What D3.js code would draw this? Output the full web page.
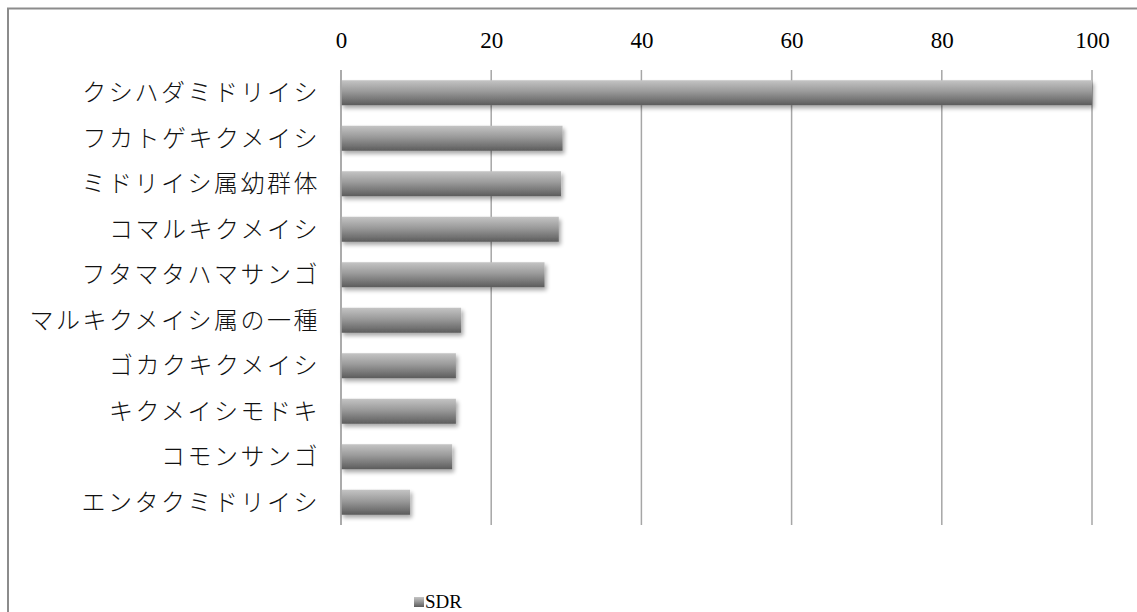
<!DOCTYPE html>
<html>
<head>
<meta charset="utf-8">
<script src="https://cdn.jsdelivr.net/npm/d3@7"></script>
<style>
  html, body { margin: 0; padding: 0; background: #fff; }
  svg { display: block; }
</style>
</head>
<body>
<svg id="chart" width="1137" height="612"></svg>
<script>
// Species names (top to bottom) and their SDR values
const categories = [
  "クシハダミドリイシ",
  "フカトゲキクメイシ",
  "ミドリイシ属幼群体",
  "コマルキクメイシ",
  "フタマタハマサンゴ",
  "マルキクメイシ属の一種",
  "ゴカクキクメイシ",
  "キクメイシモドキ",
  "コモンサンゴ",
  "エンタクミドリイシ"
];
const sdrValues = [100, 29.5, 29.3, 29.0, 27.1, 16.0, 15.3, 15.3, 14.8, 9.2];
const tickValues = [0, 20, 40, 60, 80, 100];
const seriesName = "SDR";

const svg = d3.select("#chart");
const W = 1137, H = 612;
const plot = { left: 341, right: 1092, top: 70, bottom: 525 };

const x = d3.scaleLinear().domain([0, 100]).range([plot.left, plot.right]);
const y = d3.scaleBand().domain(categories).range([plot.top, plot.bottom]).paddingInner(0.45).paddingOuter(0.225);

const defs = svg.append("defs");
const grad = defs.append("linearGradient").attr("id", "barGrad")
  .attr("x1", 0).attr("y1", 0).attr("x2", 0).attr("y2", 1);
grad.append("stop").attr("offset", "0%").attr("stop-color", "#c4c4c4");
grad.append("stop").attr("offset", "45%").attr("stop-color", "#9a9a9a");
grad.append("stop").attr("offset", "100%").attr("stop-color", "#5c5c5c");

const shadow = defs.append("filter").attr("id", "barShadow")
  .attr("x", "-5%").attr("y", "-30%").attr("width", "115%").attr("height", "180%");
shadow.append("feGaussianBlur").attr("in", "SourceAlpha").attr("stdDeviation", 2.2).attr("result", "blur");
shadow.append("feOffset").attr("in", "blur").attr("dx", 2).attr("dy", 3).attr("result", "off");
shadow.append("feComponentTransfer").attr("in", "off").attr("result", "soft")
  .append("feFuncA").attr("type", "linear").attr("slope", 0.35);
const merge = shadow.append("feMerge");
merge.append("feMergeNode").attr("in", "soft");
merge.append("feMergeNode").attr("in", "SourceGraphic");

// Chart frame
svg.append("path")
  .attr("d", `M8,${H} V8.5 H${W}`)
  .attr("fill", "none").attr("stroke", "#8c8c8c").attr("stroke-width", 2);

// Vertical gridlines
svg.append("g").selectAll("line").data(tickValues).join("line")
  .attr("x1", d => x(d)).attr("x2", d => x(d))
  .attr("y1", plot.top).attr("y2", plot.bottom)
  .attr("stroke", "#a6a6a6").attr("stroke-width", 1.5);

// Top value axis
const xAxis = d3.axisTop(x).tickValues(tickValues).tickSize(0).tickPadding(0);
const gx = svg.append("g").attr("transform", `translate(0,48)`).call(xAxis);
gx.select(".domain").remove();
gx.selectAll("text")
  .attr("font-family", "'Liberation Serif', 'DejaVu Serif', serif")
  .attr("font-size", 23).attr("fill", "#000");

// Bars
svg.append("g").selectAll("rect").data(sdrValues).join("rect")
  .attr("x", x(0))
  .attr("y", (d, i) => y(categories[i]))
  .attr("width", d => x(d) - x(0))
  .attr("height", y.bandwidth())
  .attr("fill", "url(#barGrad)")
  .attr("filter", "url(#barShadow)");

// Category labels
const yAxis = d3.axisLeft(y).tickSize(0).tickPadding(21);
const gy = svg.append("g").attr("transform", `translate(${plot.left},0)`).call(yAxis);
gy.select(".domain").remove();
gy.selectAll("text")
  .attr("font-family", "'Noto Sans CJK JP', sans-serif")
  .attr("font-weight", 300)
  .attr("font-size", 24)
  .attr("letter-spacing", 2.5)
  .attr("fill", "#111")
  .attr("dy", "0.36em");

// Redraw the zero line above the bars
svg.append("line")
  .attr("x1", x(0)).attr("x2", x(0))
  .attr("y1", plot.top).attr("y2", plot.bottom)
  .attr("stroke", "#a6a6a6").attr("stroke-width", 1.5);

// Legend
const lg = svg.append("g").attr("transform", "translate(414,601)");
lg.append("rect").attr("x", 0).attr("y", -4).attr("width", 10).attr("height", 10).attr("fill", "url(#barGrad)");
lg.append("text").attr("x", 11).attr("y", 0).attr("dy", "0.35em")
  .attr("font-family", "'Liberation Serif', serif").attr("font-size", 19)
  .text(seriesName);
</script>
</body>
</html>
